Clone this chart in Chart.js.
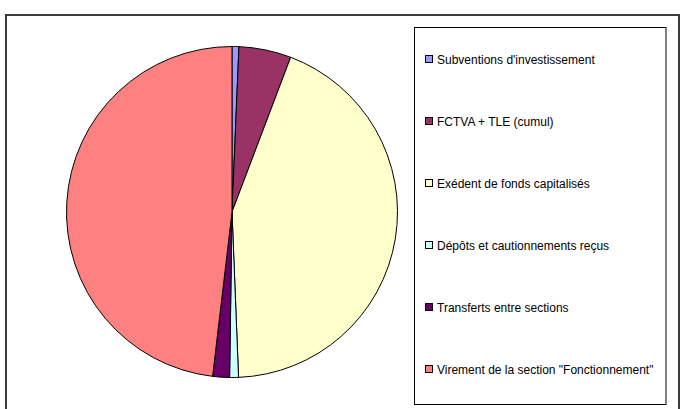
<!DOCTYPE html>
<html>
<head>
<meta charset="utf-8">
<script src="https://cdn.jsdelivr.net/npm/chart.js@4.4.1/dist/chart.umd.min.js"></script>
<style>
    body { margin: 0; background: #fff; font-family: "Liberation Sans", Arial, sans-serif; }
    #wrap { position: relative; width: 682px; height: 409px; overflow: hidden; }
    #cadre { position: absolute; left: 5px; top: 14px; width: 671px; height: 420px; border: 2px solid #3a3a3a; }
    #graf { position: absolute; left: 0; top: 0; }
    #legende {
        position: absolute; left: 414px; top: 27px; width: 250px; height: 376px;
        border: 1px solid #000; border-right: 2px solid #808080; border-bottom: 1px solid #000;
        background: #fff;
    }
    .item { position: absolute; left: 10px; font-size: 12px; color: #000; white-space: nowrap; line-height: 14px; }
    .carre { display: inline-block; width: 6px; height: 6px; border: 1px solid #000; margin-right: 4px; vertical-align: 1px; }
</style>
</head>
<body>
<div id="wrap">
    <div id="cadre"></div>
    <canvas id="graf" width="682" height="409"></canvas>
    <div id="legende"></div>
</div>
<script>
// Données (parts estimées en %)
const categories = [
    "Subventions d'investissement",
    "FCTVA + TLE (cumul)",
    "Exédent de fonds capitalisés",
    "Dépôts et cautionnements reçus",
    "Transferts entre sections",
    "Virement de la section \"Fonctionnement\""
];
const valeurs = [0.67, 5.1, 43.6, 0.86, 1.64, 48.13];
const couleurs = ["#9999FF", "#993366", "#FFFFCC", "#CCFFFF", "#660066", "#FF8080"];

// Légende
const legende = document.getElementById("legende");
categories.forEach((c, i) => {
    legende.innerHTML += `
        <div class="item" style="top:${25 + i * 62}px">
            <span class="carre" style="background:${couleurs[i]}"></span>${c}
        </div>
    `;
});

const ctx = document.getElementById("graf").getContext("2d");

new Chart(ctx, {
    type: "pie",
    data: {
        labels: categories,
        datasets: [{
            data: valeurs,
            backgroundColor: couleurs,
            borderColor: "#000",
            borderWidth: 1
        }]
    },
    options: {
        responsive: false,
        animation: false,
        layout: {
            padding: { top: 46, bottom: 31, left: 66, right: 284 }
        },
        plugins: {
            legend: { display: false },
            tooltip: { enabled: false }
        }
    }
});
</script>
</body>
</html>
